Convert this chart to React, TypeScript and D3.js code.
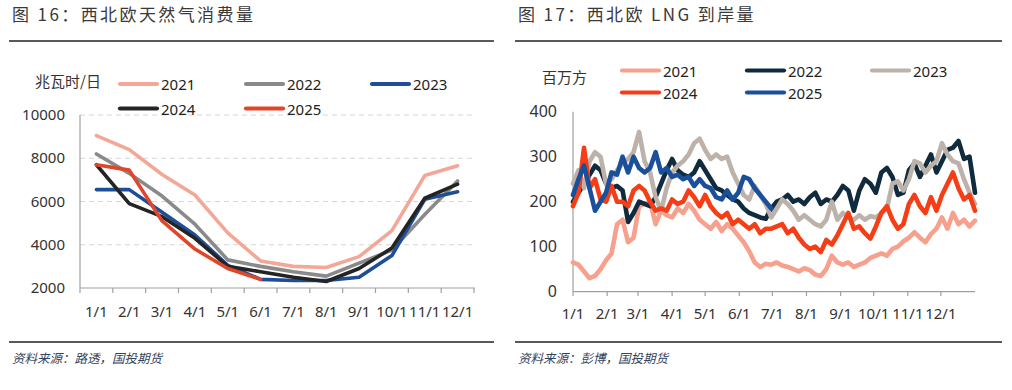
import React from "react";
import * as d3 from "d3";

// ---- data ----
const months = ["1/1", "2/1", "3/1", "4/1", "5/1", "6/1", "7/1", "8/1", "9/1", "10/1", "11/1", "12/1"];
const monthStartDays = [0, 31, 59, 90, 120, 151, 181, 212, 243, 273, 304, 334];

// 西北欧天然气消费量 (兆瓦时/日), monthly
const cons2021 = [9050, 8400, 7250, 6300, 4550, 3250, 3000, 2950, 3450, 4650, 7200, 7650];
const cons2022 = [8200, 7300, 6250, 4950, 3300, 3000, 2750, 2550, 3150, 3750, 5400, 6950];
const cons2023 = [6550, 6550, 5500, 4450, 3050, 2400, 2350, 2350, 2500, 3500, 6100, 6450];
const cons2024 = [7700, 5900, 5300, 4300, 3000, 2750, 2500, 2300, 2900, 3850, 6150, 6800];
const cons2025 = [7700, 7450, 5100, 3800, 2900, 2400];
const consTicks = [2000, 4000, 6000, 8000, 10000];

// 西北欧 LNG 到岸量 (百万方), one reading every 5 days from 1/1
const STEP = 5;
const lng2021 = [65, 60, 45, 30, 35, 50, 70, 85, 150, 160, 110, 120, 190, 195, 200, 150, 180, 170, 165, 185,
  175, 195, 180, 160, 150, 140, 155, 135, 150, 140, 125, 110, 90, 65, 55, 62, 60, 65, 58, 55,
  50, 45, 52, 48, 38, 35, 50, 80, 65, 60, 65, 55, 60, 65, 75, 80, 85, 80, 95, 100,
  112, 120, 132, 120, 110, 128, 140, 165, 140, 175, 150, 160, 145, 158];
const lng2022 = [200, 220, 240, 260, 280, 270, 240, 230, 235, 225, 155, 175, 200, 195, 190, 210, 240, 270, 295, 270,
  260, 255, 265, 290, 270, 250, 230, 225, 215, 205, 200, 185, 175, 170, 165, 162, 185, 200, 205, 215,
  200, 205, 195, 210, 220, 195, 205, 200, 215, 235, 225, 180, 225, 250, 240, 220, 265, 275, 255, 215,
  220, 270, 285, 255, 280, 305, 265, 290, 315, 320, 335, 295, 300, 220];
const lng2023 = [240, 270, 230, 290, 310, 300, 240, 250, 270, 285, 295, 310, 355, 290, 265, 210, 180, 230, 265, 280,
  290, 305, 330, 340, 315, 295, 305, 295, 300, 265, 240, 215, 205, 235, 215, 195, 165, 185, 205, 195,
  180, 160, 170, 160, 150, 145, 160, 200, 160, 175, 165, 160, 170, 160, 168, 165, 175, 185, 240, 245,
  225, 250, 290, 285, 265, 280, 290, 330, 305, 290, 285, 250, 220, 195];
const lng2024 = [190, 220, 320, 230, 250, 205, 200, 235, 200, 200, 190, 225, 235, 225, 200, 180, 185, 180, 205, 195,
  200, 225, 210, 190, 215, 190, 175, 165, 175, 150, 160, 150, 140, 150, 130, 140, 140, 145, 150, 130,
  140, 120, 105, 95, 100, 88, 115, 105, 125, 150, 175, 140, 145, 130, 118, 145, 175, 190, 160, 140,
  150, 195, 215, 190, 175, 210, 180, 215, 240, 265, 230, 205, 215, 180];
const lng2025 = [215, 250, 280, 230, 180, 200, 220, 265, 260, 300, 265, 300, 275, 265, 275, 310, 265, 275, 255, 260,
  250, 255, 235, 250, 235, 230, 210, 205, 225, 205, 220, 255, 250, 230, 215, 200, 185];
const lngTicks = [0, 100, 200, 300, 400];

const consSeries = [
  { name: "2021", values: cons2021, color: "#F3A797" },
  { name: "2022", values: cons2022, color: "#8A8A8A" },
  { name: "2023", values: cons2023, color: "#1F4E99" },
  { name: "2024", values: cons2024, color: "#242424" },
  { name: "2025", values: cons2025, color: "#E0462A" },
];

const lngSeries = [
  { name: "2021", values: lng2021, color: "#F6A08D" },
  { name: "2022", values: lng2022, color: "#0F2B3D" },
  { name: "2023", values: lng2023, color: "#BDB2AA" },
  { name: "2024", values: lng2024, color: "#F53D16" },
  { name: "2025", values: lng2025, color: "#1A4F9C" },
];

const numFont = "'Noto Sans', 'Open Sans', sans-serif";
const cjkFont = "'Noto Sans CJK SC', sans-serif";
const textColor = "#333";

const Legend = ({ items, x0, dx, y0, dy }: any) => (
  <g>
    {items.map((s: any, i: number) => {
      const col = i % 3;
      const row = Math.floor(i / 3);
      const x = x0 + col * dx;
      const y = y0 + row * dy;
      return (
        <g key={s.name}>
          <line x1={x} x2={x + 37} y1={y} y2={y} stroke={s.color} strokeWidth={4.2} strokeLinecap="round" />
          <text x={x + 41} y={y + 6} fontSize={15} fontFamily={numFont} fill="#222">{s.name}</text>
        </g>
      );
    })}
  </g>
);

const Frame = ({ x1, x2, title, source }: any) => (
  <g>
    <text x={x1 + 3} y={21} fontSize={17} letterSpacing={2.4} fontFamily={cjkFont} fill="#3a3a3a">{title}</text>
    <line x1={x1} x2={x2} y1={41} y2={41} stroke="#222" strokeWidth={1.3} />
    <line x1={x1} x2={x2} y1={342} y2={342} stroke="#222" strokeWidth={1.3} />
    <text x={x1 + 3} y={363} fontSize={12.5} fontStyle="italic" fontFamily={cjkFont} fill="#34425a">{source}</text>
  </g>
);

const ConsumptionChart = () => {
  const x = d3.scaleBand<string>().domain(months).range([80, 474]);
  const y = d3.scaleLinear().domain([2000, 10000]).range([288, 115]);
  const cx = (i: number) => (x(months[i]) as number) + x.bandwidth() / 2;
  const line = d3.line<number>().x((_, i) => cx(i)).y((d) => y(d));
  const tickXs = months.map((m) => x(m) as number).concat([474]);
  return (
    <g>
      <Frame x1={9} x2={494} title="图 16：西北欧天然气消费量" source="资料来源：路透，国投期货" />
      {consTicks.map((t) => (
        <g key={t}>
          {t > 2000 && (
            <line x1={80} x2={475} y1={y(t)} y2={y(t)} stroke="#d6d6d6" strokeDasharray="5,4" strokeWidth={1} />
          )}
          <text x={65} y={y(t) + 5} textAnchor="end" fontSize={15} fontFamily={numFont} fill={textColor}>{t}</text>
        </g>
      ))}
      <line x1={80} x2={80} y1={115} y2={288} stroke="#a0a0a0" strokeWidth={1.2} />
      <line x1={80} x2={475} y1={288} y2={288} stroke="#a0a0a0" strokeWidth={1.2} />
      {tickXs.map((tx, i) => (
        <line key={i} x1={tx} x2={tx} y1={288} y2={293} stroke="#a0a0a0" strokeWidth={1.2} />
      ))}
      {months.map((m, i) => (
        <text key={m} x={cx(i)} y={317} textAnchor="middle" fontSize={15} fontFamily={numFont} fill={textColor}>{m}</text>
      ))}
      {consSeries.map((s) => (
        <path key={s.name} d={line(s.values) as string} fill="none" stroke={s.color} strokeWidth={3.6} strokeLinejoin="round" strokeLinecap="round" />
      ))}
      <text x={35} y={87} fontSize={15} fontFamily={cjkFont} fill={textColor}>兆瓦时/日</text>
      <Legend items={consSeries} x0={120} dx={126} y0={84} dy={24.5} />
    </g>
  );
};

const LngChart = () => {
  const x = d3.scaleLinear().domain([0, 365]).range([573, 975]);
  const y = d3.scaleLinear().domain([0, 400]).range([291.7, 111.7]);
  const line = d3.line<number>().x((_, i) => x(i * STEP)).y((d) => y(d));
  return (
    <g>
      <Frame x1={515} x2={1002} title="图 17：西北欧 LNG 到岸量" source="资料来源：彭博，国投期货" />
      {lngTicks.map((t) => (
        <text key={t} x={557} y={y(t) + 5.5} textAnchor="end" fontSize={16} fontFamily={numFont} fill={textColor}>{t}</text>
      ))}
      <line x1={573} x2={573} y1={111.7} y2={291.7} stroke="#a0a0a0" strokeWidth={1.2} />
      <line x1={573} x2={975} y1={291.7} y2={291.7} stroke="#a0a0a0" strokeWidth={1.2} />
      {monthStartDays.map((d, i) => (
        <g key={i}>
          <line x1={x(d)} x2={x(d)} y1={291.7} y2={296} stroke="#a0a0a0" strokeWidth={1.2} />
          <text x={x(d)} y={319} textAnchor="middle" fontSize={15} fontFamily={numFont} fill={textColor}>{months[i]}</text>
        </g>
      ))}
      {lngSeries.map((s) => (
        <path key={s.name} d={line(s.values) as string} fill="none" stroke={s.color} strokeWidth={4.6} strokeLinejoin="round" strokeLinecap="round" />
      ))}
      <text x={542} y={83} fontSize={15} fontFamily={cjkFont} fill={textColor}>百万方</text>
      <Legend items={lngSeries} x0={622} dx={125} y0={70.5} dy={22} />
    </g>
  );
};

export default function App() {
  return (
    <svg width={1012} height={390} style={{ position: "absolute", left: 0, top: 0, background: "#fff" }}>
      <rect width={1012} height={390} fill="#fff" />
      <ConsumptionChart />
      <LngChart />
    </svg>
  );
}
